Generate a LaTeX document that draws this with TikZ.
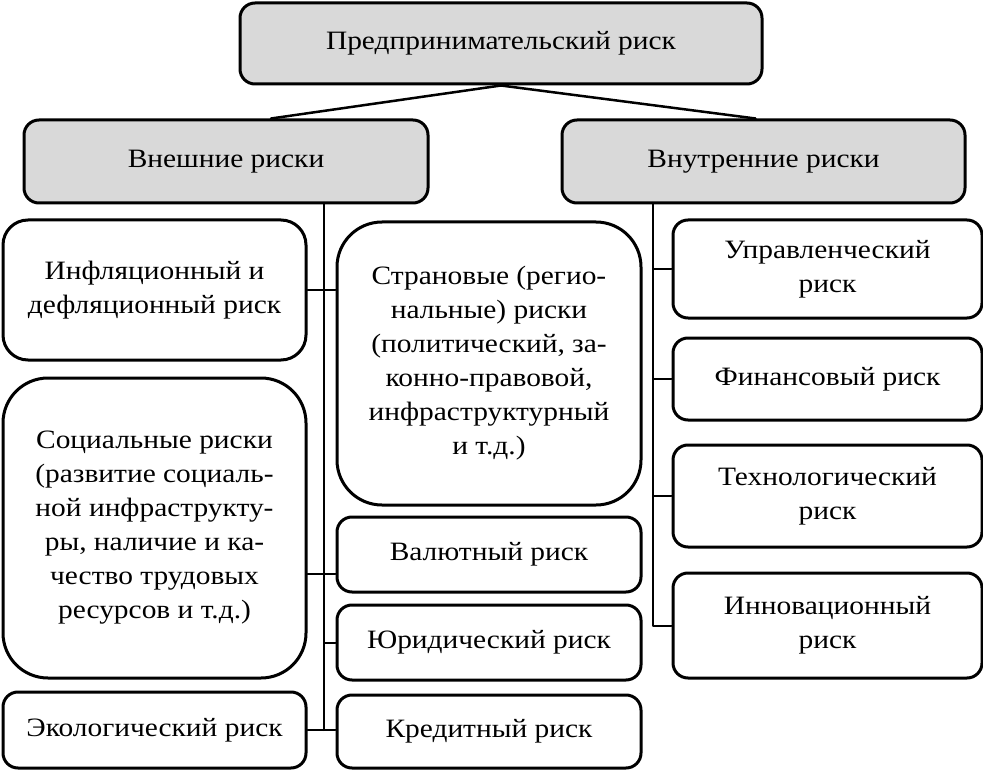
\documentclass[tikz,border=0pt]{standalone}
\usepackage{fontspec}
\setmainfont{Liberation Serif}[FakeStretch=1.11]
\usetikzlibrary{positioning}
\definecolor{boxgrey}{RGB}{217,217,217}
\tikzset{
  riskbox/.style={draw, line width=3pt, rounded corners=15pt, align=center,
    inner sep=0pt, font=\fontsize{26.5}{34}\selectfont},
  headbox/.style={riskbox, fill=boxgrey},
  link/.style={line width=2pt}
}
\begin{document}
\begin{tikzpicture}[x=1pt, y=-1pt, line cap=round, line join=round]
                \useasboundingbox (0,0) rectangle (983,770);

                % top levels
                \node[headbox, minimum width=522pt, minimum height=81pt] (entre) at (501,43.5) {Предпринимательский риск};
                \node[headbox, minimum width=404pt, minimum height=83pt] (ext) at (226,161.5) {Внешние риски};
                \node[headbox, minimum width=403pt, minimum height=83pt] (int) at (763.5,161.5) {Внутренние риски};

                % external risks
                \node[riskbox, rounded corners=25pt, minimum width=303pt, minimum height=140pt] (infl) at (154.5,290) {Инфляционный и\\дефляционный риск};
                \node[riskbox, rounded corners=45pt, minimum width=304pt, minimum height=283pt] (country) at (489,363.5) {Страновые (регио-\\нальные) риски\\(политический, за-\\конно-правовой,\\инфраструктурный\\и т.д.)};
                \node[riskbox, rounded corners=45pt, minimum width=303pt, minimum height=300pt] (social) at (154.5,528) {Социальные риски\\(развитие социаль-\\ной инфраструкту-\\ры, наличие и ка-\\чество трудовых\\ресурсов и т.д.)};
                \node[riskbox, minimum width=304pt, minimum height=75pt] (curr) at (489,554.5) {Валютный риск};
                \node[riskbox, minimum width=304pt, minimum height=75pt] (legal) at (489,642.5) {Юридический риск};
                \node[riskbox, minimum width=303pt, minimum height=76pt] (eco) at (154.5,730) {Экологический риск};
                \node[riskbox, minimum width=304pt, minimum height=73pt] (credit) at (489,731.5) {Кредитный риск};

                % internal risks
                \node[riskbox, minimum width=309pt, minimum height=98pt] (mgmt) at (827.5,269) {Управленческий\\риск};
                \node[riskbox, minimum width=309pt, minimum height=82pt] (fin) at (827.5,379) {Финансовый риск};
                \node[riskbox, minimum width=309pt, minimum height=102pt] (tech) at (827.5,496) {Технологический\\риск};
                \node[riskbox, minimum width=309pt, minimum height=105pt] (innov) at (827.5,625.5) {Инновационный\\риск};

                % connectors
                \draw[link, line width=2.5pt] (entre.south) -- ([xshift=45pt]ext.north);
                \draw[link, line width=2.5pt] (entre.south) -- ([xshift=-8pt]int.north);

                \coordinate (ltop) at (324,203);
                \coordinate (lbot) at (324,730);
                \draw[link] (ltop) -- (lbot);
                \draw[link] (infl.east) -- (infl.east -| country.west);
                \draw[link] ([yshift=-46pt]social.east) -- ([yshift=-46pt]social.east -| curr.west);
                \draw[link] (legal.west) -- (legal.west -| ltop);
                \draw[link] (eco.east) -- (eco.east -| credit.west);

                \coordinate (rtop) at (653,203);
                \draw[link] (rtop) |- (innov.west);
                \draw[link] (mgmt.west -| rtop) -- (mgmt.west);
                \draw[link] (fin.west -| rtop) -- (fin.west);
                \draw[link] (tech.west -| rtop) -- (tech.west);

            \end{tikzpicture}
\end{document}
